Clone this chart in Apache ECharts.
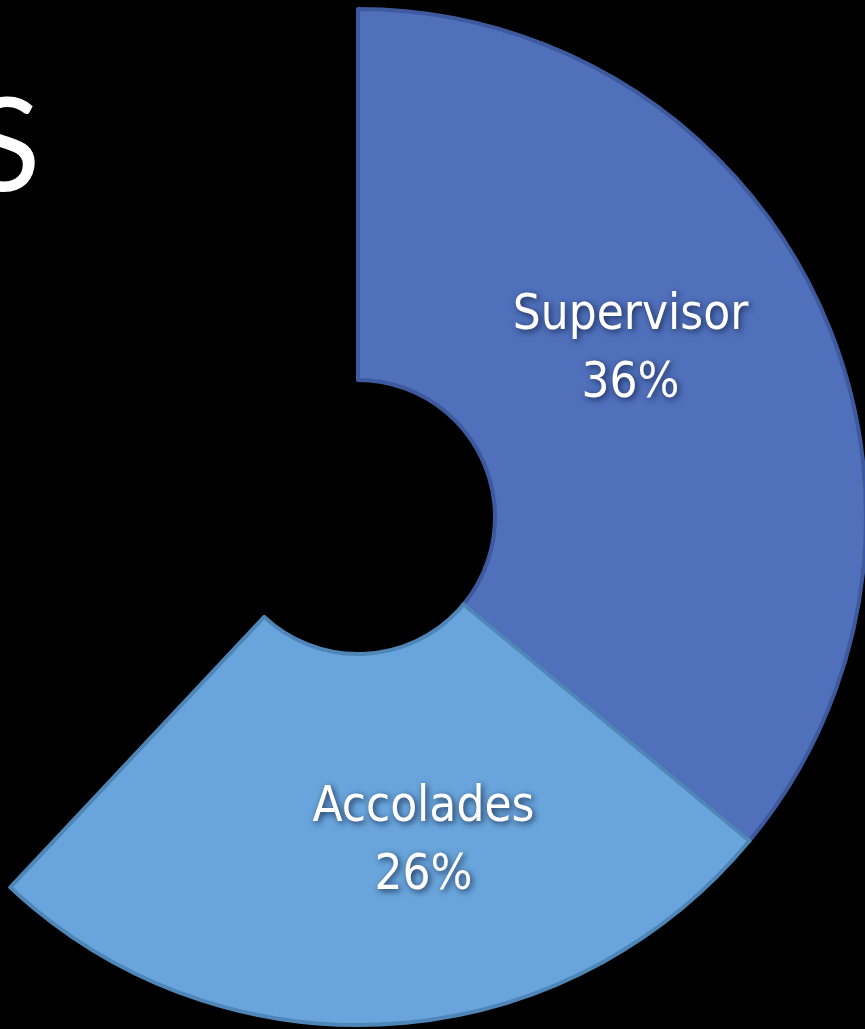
<!DOCTYPE html>
<html>
<head>
<meta charset="utf-8">
<script src="https://cdn.jsdelivr.net/npm/echarts@6/dist/echarts.min.js"></script>
<style>
html,body{margin:0;padding:0;background:#000;}
#c{width:865px;height:1029px;}
</style>
</head>
<body>
<div id="c"></div>
<script>
const categories = ['Supervisor', 'Accolades', 'Other'];
const values = [36, 26, 38];
const titleText = 'S';

const colors = ['#5070BC', '#69A5DC', 'rgba(0,0,0,0)'];
const borders = ['#3E5A9E', '#4F86B8', 'rgba(0,0,0,0)'];
const labelShift = [[-22, -28], [45, 0], [0, 0]];

const chart = echarts.init(document.getElementById('c'), null, {renderer: 'canvas'});
const data = categories.map((name, i) => {
  const hidden = i === 2;
  return {
    name: name,
    value: values[i],
    itemStyle: {color: colors[i], borderColor: borders[i], borderWidth: hidden ? 0 : 4},
    label: {show: !hidden},
    emphasis: {disabled: true}
  };
});

chart.setOption({
  backgroundColor: '#000',
  animation: false,
  graphic: [{
    type: 'text',
    left: -30,
    top: 84,
    style: {
      text: titleText,
      fill: '#fff',
      font: 'normal 130px Lato, "Open Sans", sans-serif'
    }
  }],
  series: [{
    type: 'pie',
    center: [358, 517],
    radius: [137, 508],
    startAngle: 90,
    clockwise: true,
    silent: true,
    label: {
      show: true,
      position: 'inside',
      formatter: '{b}\n{d}%',
      color: '#fff',
      fontFamily: '"DejaVu Sans Condensed", "Liberation Sans Narrow", sans-serif',
      fontSize: 49,
      lineHeight: 68,
      textShadowColor: 'rgba(20,35,70,0.9)',
      textShadowBlur: 6,
      textShadowOffsetX: 2,
      textShadowOffsetY: 2
    },
    labelLayout: function (params) {
      const s = labelShift[params.dataIndex] || [0, 0];
      return {dx: s[0], dy: s[1]};
    },
    labelLine: {show: false},
    data: data
  }]
});
</script>
</body>
</html>
